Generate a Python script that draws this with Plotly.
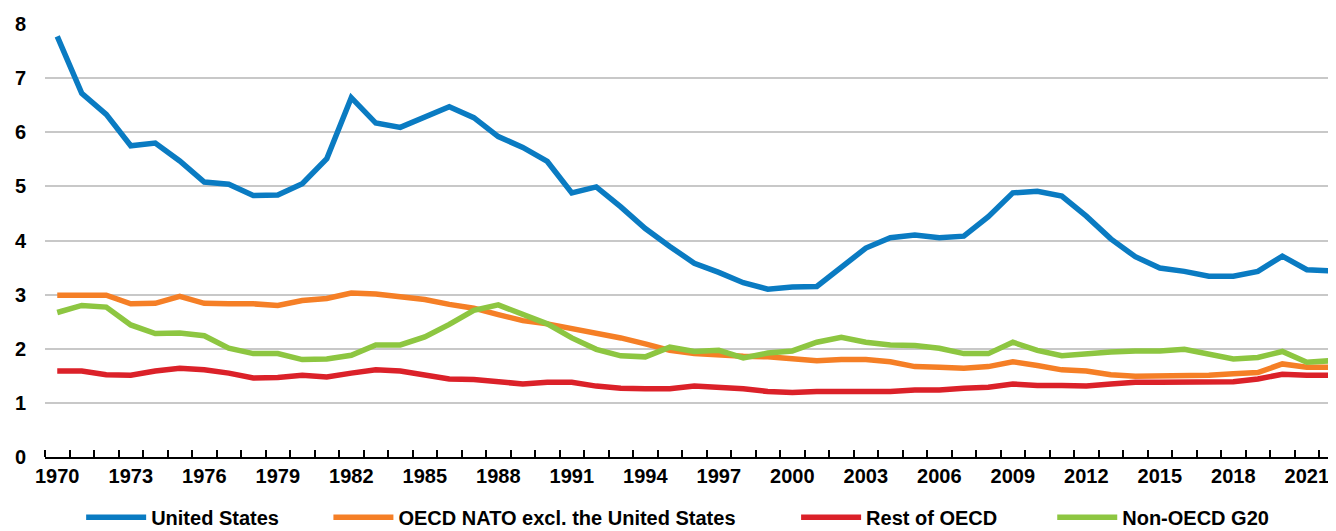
import plotly.graph_objects as go

years = list(range(1970, 2023))

united_states = [7.77, 6.72, 6.33, 5.75, 5.80, 5.47, 5.08, 5.04, 4.83, 4.84,
                 5.05, 5.51, 6.64, 6.17, 6.09, 6.27, 6.47, 6.27, 5.92, 5.72,
                 5.46, 4.88, 4.99, 4.62, 4.22, 3.89, 3.58, 3.41, 3.22, 3.10,
                 3.14, 3.15, 3.49, 3.86, 4.05, 4.10, 4.05, 4.08, 4.44, 4.88,
                 4.91, 4.82, 4.45, 4.03, 3.70, 3.49, 3.43, 3.34, 3.34, 3.43,
                 3.71, 3.46, 3.44]

oecd_nato_ex_us = [2.99, 2.98, 2.99, 2.83, 2.84, 2.97, 2.84, 2.83, 2.83, 2.80,
                   2.89, 2.93, 3.03, 3.01, 2.96, 2.91, 2.82, 2.75, 2.63, 2.52,
                   2.46, 2.38, 2.28, 2.20, 2.09, 1.97, 1.91, 1.88, 1.86, 1.85,
                   1.81, 1.78, 1.80, 1.80, 1.76, 1.67, 1.66, 1.64, 1.67, 1.76,
                   1.69, 1.61, 1.59, 1.52, 1.49, 1.49, 1.50, 1.51, 1.54, 1.56,
                   1.72, 1.66, 1.66]

rest_of_oecd = [1.59, 1.59, 1.52, 1.51, 1.59, 1.64, 1.61, 1.55, 1.46, 1.47,
                1.51, 1.48, 1.55, 1.61, 1.59, 1.51, 1.44, 1.43, 1.39, 1.35,
                1.38, 1.38, 1.31, 1.27, 1.26, 1.26, 1.31, 1.29, 1.26, 1.21,
                1.19, 1.21, 1.21, 1.23, 1.21, 1.24, 1.24, 1.27, 1.29, 1.35,
                1.32, 1.32, 1.31, 1.35, 1.38, 1.38, 1.38, 1.38, 1.39, 1.44,
                1.53, 1.51, 1.51]

non_oecd_g20 = [2.67, 2.80, 2.77, 2.44, 2.28, 2.29, 2.24, 2.01, 1.91, 1.91,
                1.80, 1.81, 1.88, 2.07, 2.07, 2.22, 2.45, 2.71, 2.81, 2.63,
                2.46, 2.20, 1.99, 1.87, 1.85, 2.03, 1.95, 1.97, 1.83, 1.92,
                1.96, 2.12, 2.21, 2.12, 2.07, 2.06, 2.01, 1.91, 1.91, 2.12,
                1.97, 1.87, 1.91, 1.94, 1.96, 1.96, 1.99, 1.89, 1.81, 1.84,
                1.95, 1.75, 1.78]

series_names = ["United States", "OECD NATO excl. the United States",
                "Rest of OECD", "Non-OECD G20"]
series_colors = ["#0A7BC2", "#F57F26", "#DB2129", "#8DC641"]
series_values = [united_states, oecd_nato_ex_us, rest_of_oecd, non_oecd_g20]
legend_pad = [8, 10, 9, 0]

x_tick_years = list(range(1970, 2023, 3))
y_ticks = list(range(0, 9))

FONT = "Liberation Sans Narrow, Arial Narrow, Liberation Sans, Arial, sans-serif"

fig = go.Figure()
for name, color, vals, pad in zip(series_names, series_colors, series_values, legend_pad):
    fig.add_trace(go.Scatter(
        x=years, y=vals, mode="lines", name=name + "\u00a0" * pad,
        line=dict(color=color, width=5.5),
    ))

# page has an 8px body margin, so the figure is sized/offset to fill the window
fig.update_layout(
    width=1328, height=523,
    margin=dict(l=37, r=0, t=16, b=74, autoexpand=False),
    paper_bgcolor="white", plot_bgcolor="white",
    font=dict(family=FONT, size=20, color="black", weight="bold"),
    showlegend=True,
    legend=dict(
        orientation="h", x=0.028, xanchor="left", y=-0.139, yanchor="middle",
        font=dict(family=FONT, size=20, color="black", weight="bold"),
        itemwidth=60, bgcolor="rgba(0,0,0,0)", tracegroupgap=0,
    ),
    xaxis=dict(
        range=[1969.5, 2022.19],
        tickmode="array", tickvals=x_tick_years,
        ticktext=[str(y) for y in x_tick_years],
        ticks="", showgrid=False, zeroline=False,
        showline=True, linecolor="black", linewidth=2,
        tickfont=dict(family=FONT, size=20, color="black", weight="bold"),
        minor=dict(ticks="inside", ticklen=7, tickwidth=2, tickcolor="black",
                   tick0=1969.5, dtick=1, showgrid=False),
        ticklabelstandoff=0,
    ),
    yaxis=dict(
        range=[0, 8], tickmode="array", tickvals=y_ticks,
        showgrid=True, gridcolor="#C8C8C8", gridwidth=2,
        zeroline=False, showline=False, ticks="",
        tickfont=dict(family=FONT, size=20, color="black", weight="bold"),
        ticklabelstandoff=18,
    ),
)

fig.write_html("out.html")
